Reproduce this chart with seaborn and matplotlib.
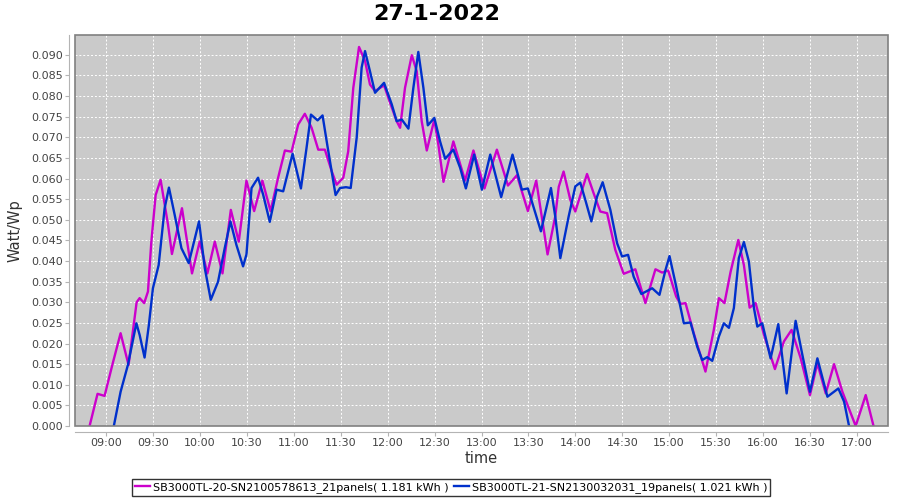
import matplotlib
matplotlib.use("Agg")
from matplotlib import pyplot as plt
from matplotlib.patches import Rectangle
import matplotlib.dates as mdates
import pandas as pd
import seaborn as sns

DAY = "2022-01-27"
TITLE = "27-1-2022"
NAME_A = "SB3000TL-20-SN2100578613_21panels( 1.181 kWh )"
NAME_B = "SB3000TL-21-SN2130032031_19panels( 1.021 kWh )"
COLOR_A = "#CC00CC"
COLOR_B = "#0030CC"

# SB3000TL-20 (magenta)
times_a = ["08:49:20", "08:54:25", "08:58:55", "09:04:00", "09:09:10", "09:14:15",
           "09:19:25", "09:21:20", "09:24:15", "09:26:40", "09:28:50", "09:31:35",
           "09:34:45", "09:39:30", "09:42:00", "09:48:25", "09:54:50", "09:59:45",
           "10:04:40", "10:09:25", "10:14:20", "10:19:40", "10:24:45", "10:29:40",
           "10:34:35", "10:39:50", "10:45:05", "10:49:55", "10:54:15", "10:58:30",
           "11:02:45", "11:07:00", "11:11:20", "11:15:35", "11:19:50", "11:24:10",
           "11:27:20", "11:31:35", "11:34:45", "11:38:00", "11:41:40", "11:45:30",
           "11:48:40", "11:51:55", "11:57:40", "12:01:30", "12:05:45", "12:07:55",
           "12:11:05", "12:15:25", "12:18:35", "12:21:45", "12:25:00", "12:29:50",
           "12:32:25", "12:35:40", "12:42:00", "12:49:30", "12:54:50", "13:01:55",
           "13:09:50", "13:16:55", "13:22:40", "13:29:40", "13:35:00", "13:42:15",
           "13:47:10", "13:49:25", "13:52:30", "13:56:50", "14:00:00", "14:07:30",
           "14:11:45", "14:16:00", "14:20:20", "14:25:35", "14:30:55", "14:38:25",
           "14:44:50", "14:51:15", "14:55:30", "14:59:25", "15:04:30", "15:07:15",
           "15:10:30", "15:15:45", "15:23:15", "15:28:35", "15:31:50", "15:35:25",
           "15:39:20", "15:44:15", "15:47:50", "15:51:30", "15:55:20", "16:00:40",
           "16:07:40", "16:13:25", "16:18:20", "16:24:10", "16:30:05", "16:34:50",
           "16:40:10", "16:45:30", "16:50:50", "16:59:20", "17:05:45", "17:10:45"]
watt_a = [0.0, 0.0078, 0.0073, 0.0150, 0.0225, 0.0148,
          0.0300, 0.0310, 0.0298, 0.0326, 0.0447, 0.0560,
          0.0597, 0.0488, 0.0417, 0.0528, 0.0370, 0.0447,
          0.0370, 0.0447, 0.0370, 0.0524, 0.0447, 0.0595,
          0.0521, 0.0595, 0.0521, 0.0602, 0.0668, 0.0665,
          0.0731, 0.0757, 0.0723, 0.0670, 0.0670, 0.0618,
          0.0585, 0.0602, 0.0666, 0.0820, 0.0919, 0.0885,
          0.0828, 0.0812, 0.0826, 0.0784, 0.0739, 0.0723,
          0.0820, 0.0899, 0.0860, 0.0739, 0.0668, 0.0743,
          0.0682, 0.0592, 0.0690, 0.0595, 0.0668, 0.0576,
          0.0670, 0.0583, 0.0608, 0.0521, 0.0595, 0.0416,
          0.0508, 0.0580, 0.0617, 0.0548, 0.0520, 0.0611,
          0.0564, 0.0520, 0.0516, 0.0427, 0.0369, 0.0380,
          0.0298, 0.0380, 0.0372, 0.0377, 0.0314, 0.0296,
          0.0298, 0.0225, 0.0132, 0.0233, 0.0310, 0.0298,
          0.0374, 0.0451, 0.0390, 0.0287, 0.0298, 0.0221,
          0.0138, 0.0205, 0.0233, 0.0164, 0.0075, 0.0152,
          0.0079, 0.0150, 0.0083, 0.0, 0.0075, 0.0]

# SB3000TL-21 (blue)
times_b = ["09:04:50", "09:09:10", "09:13:50", "09:19:15", "09:21:20", "09:24:30",
           "09:27:15", "09:29:50", "09:33:30", "09:37:20", "09:40:05", "09:43:45",
           "09:48:05", "09:52:45", "09:59:20", "10:03:00", "10:06:50", "10:11:30",
           "10:15:45", "10:19:25", "10:23:15", "10:27:30", "10:29:40", "10:32:55",
           "10:37:05", "10:40:20", "10:44:35", "10:48:55", "10:53:10", "10:59:10",
           "11:04:30", "11:08:05", "11:10:55", "11:15:10", "11:18:20", "11:21:20",
           "11:26:40", "11:29:30", "11:33:20", "11:36:20", "11:40:10", "11:43:20",
           "11:45:30", "11:48:40", "11:51:55", "11:57:40", "12:02:35", "12:05:45",
           "12:09:00", "12:13:15", "12:16:25", "12:19:35", "12:22:50", "12:25:40",
           "12:29:50", "12:33:30", "12:36:45", "12:42:00", "12:46:20", "12:50:00",
           "12:55:20", "13:00:15", "13:05:35", "13:12:35", "13:19:50", "13:25:50",
           "13:29:40", "13:38:00", "13:44:25", "13:47:10", "13:50:25", "13:55:45",
           "14:00:00", "14:03:10", "14:06:25", "14:10:15", "14:13:55", "14:17:30",
           "14:22:25", "14:26:45", "14:29:55", "14:33:45", "14:37:20", "14:42:15",
           "14:49:10", "14:53:50", "14:57:40", "15:00:15", "15:04:05", "15:09:25",
           "15:13:40", "15:18:00", "15:21:10", "15:24:20", "15:27:35", "15:31:50",
           "15:35:00", "15:38:15", "15:41:25", "15:44:35", "15:47:50", "15:51:00",
           "15:54:15", "15:56:25", "15:59:35", "16:04:55", "16:09:50", "16:15:10",
           "16:20:55", "16:25:15", "16:30:05", "16:34:50", "16:41:15", "16:48:15",
           "16:51:55", "16:55:05"]
watt_b = [0.0, 0.0083, 0.0148, 0.0249, 0.0221, 0.0166,
          0.0245, 0.0334, 0.0390, 0.0528, 0.0578, 0.0512,
          0.0431, 0.0395, 0.0496, 0.0383, 0.0306, 0.0350,
          0.0431, 0.0496, 0.0439, 0.0387, 0.0416, 0.0577,
          0.0602, 0.0561, 0.0495, 0.0573, 0.0569, 0.0660,
          0.0576, 0.0674, 0.0755, 0.0741, 0.0753, 0.0682,
          0.0560, 0.0577, 0.0579, 0.0577, 0.0699, 0.0869,
          0.0909, 0.0860, 0.0808, 0.0832, 0.0780, 0.0739,
          0.0743, 0.0721, 0.0820, 0.0907, 0.0820, 0.0729,
          0.0747, 0.0690, 0.0648, 0.0670, 0.0626, 0.0576,
          0.0658, 0.0573, 0.0658, 0.0555, 0.0658, 0.0573,
          0.0576, 0.0472, 0.0577, 0.0508, 0.0407, 0.0508,
          0.0581, 0.0590, 0.0548, 0.0496, 0.0556, 0.0591,
          0.0524, 0.0443, 0.0411, 0.0415, 0.0362, 0.0320,
          0.0334, 0.0318, 0.0378, 0.0412, 0.0346, 0.0249,
          0.0251, 0.0192, 0.0160, 0.0167, 0.0158, 0.0217,
          0.0249, 0.0238, 0.0286, 0.0407, 0.0446, 0.0399,
          0.0286, 0.0241, 0.0249, 0.0164, 0.0247, 0.0079,
          0.0255, 0.0172, 0.0083, 0.0164, 0.0071, 0.0091,
          0.0059, 0.0]

y_ticks = [i * 0.005 for i in range(19)]

df = pd.concat([
    pd.DataFrame({'time': times_a, 'watt': watt_a, 'series': NAME_A}),
    pd.DataFrame({'time': times_b, 'watt': watt_b, 'series': NAME_B}),
])
df['time'] = pd.to_datetime(DAY + " " + df['time'])

plt.rcParams['font.family'] = ['DejaVu Sans']

fig = plt.figure(figsize=(9, 5), dpi=100)
fig.patch.set_facecolor('white')
ax = fig.add_axes([75 / 900, 74 / 500, 813 / 900, 391 / 500])
ax.set_facecolor('#CACACA')

sns.lineplot(data=df, x='time', y='watt', hue='series', ax=ax,
             palette={NAME_A: COLOR_A, NAME_B: COLOR_B},
             estimator=None, sort=False, linewidth=1.7)

ax.set_xlim(pd.Timestamp(DAY + " 08:40"), pd.Timestamp(DAY + " 17:20"))
ax.set_ylim(0, 0.0948)
ax.set_yticks(y_ticks)
ax.yaxis.set_major_formatter(plt.FormatStrFormatter('%.3f'))
ax.xaxis.set_major_locator(mdates.MinuteLocator(byminute=[0, 30]))
ax.xaxis.set_major_formatter(mdates.DateFormatter('%H:%M'))
ax.grid(True, color='white', linestyle=(0, (2, 2)), linewidth=0.7)
ax.set_axisbelow(True)

for side in ['top', 'right']:
    ax.spines[side].set_visible(False)
for side in ['left', 'bottom']:
    ax.spines[side].set_position(('outward', 4))
    ax.spines[side].set_color('#B4B4B4')
ax.add_patch(Rectangle((0, 0), 1, 1, transform=ax.transAxes, fill=False,
                       edgecolor='#808080', linewidth=1.2, clip_on=False, zorder=5))
ax.tick_params(axis='both', labelsize=8, labelcolor='#444444', color='#B4B4B4',
               length=3, pad=2)

ax.set_xlabel('time', fontsize=10.5, color='#333333', labelpad=2)
ax.set_ylabel('Watt/Wp', fontsize=10.5, color='#333333', labelpad=6)

fig.text(437 / 900, 1 - 14 / 500, TITLE, ha='center', va='center',
         fontsize=16, fontweight='bold')

handles, labels = ax.get_legend_handles_labels()
ax.get_legend().remove()
leg = fig.legend(handles, labels, loc='center', bbox_to_anchor=(451 / 900, 1 - 487.5 / 500),
                 ncol=2, fontsize=8, frameon=True, fancybox=False, handlelength=1.4,
                 handletextpad=0.2, columnspacing=0.5, borderpad=0.3, borderaxespad=0)
leg.get_frame().set_edgecolor('black')
leg.get_frame().set_linewidth(1.0)

fig.savefig('out.png', dpi=100)
